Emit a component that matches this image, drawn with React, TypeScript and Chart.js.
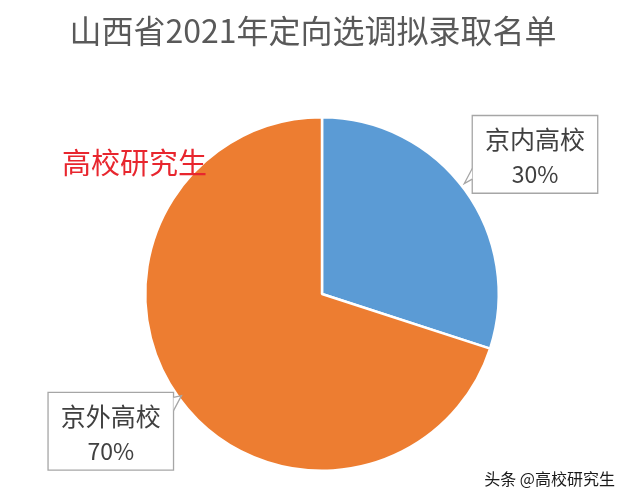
import React, { useEffect, useRef } from "react";
import { Chart, registerables } from "chart.js";

Chart.register(...registerables);

const titleText = "山西省2021年定向选调拟录取名单";
const categories = ["京内高校", "京外高校"];
const values = [30, 70];
const colors = ["#5B9BD5", "#ED7D31"];
const overlayText = "高校研究生";
const watermark = "头条 @高校研究生";

const FONT = '"Noto Sans CJK SC", "Noto Sans", sans-serif';

function drawCallout(ctx: CanvasRenderingContext2D, box: { l: number; t: number; r: number; b: number }, tail: number[][], lines: string[]) {
  ctx.save();
  ctx.fillStyle = "#ffffff";
  ctx.strokeStyle = "#a6a6a6";
  ctx.lineWidth = 1.3;
  ctx.beginPath();
  ctx.rect(box.l, box.t, box.r - box.l, box.b - box.t);
  ctx.fill();
  ctx.stroke();
  ctx.beginPath();
  ctx.moveTo(tail[0][0], tail[0][1]);
  ctx.lineTo(tail[1][0], tail[1][1]);
  ctx.lineTo(tail[2][0], tail[2][1]);
  ctx.closePath();
  ctx.fill();
  ctx.beginPath();
  ctx.moveTo(tail[0][0], tail[0][1]);
  ctx.lineTo(tail[1][0], tail[1][1]);
  ctx.lineTo(tail[2][0], tail[2][1]);
  ctx.stroke();
  ctx.fillStyle = "#404040";
  ctx.textAlign = "center";
  ctx.textBaseline = "middle";
  const cx = (box.l + box.r) / 2;
  const h = box.b - box.t;
  ctx.font = `25px ${FONT}`;
  ctx.fillText(lines[0], cx, box.t + h * 0.31);
  ctx.font = `23px ${FONT}`;
  ctx.fillText(lines[1], cx, box.t + h * 0.75);
  ctx.restore();
}

const decorPlugin = {
  id: "decor",
  afterDraw(chart: any) {
    const ctx: CanvasRenderingContext2D = chart.ctx;
    const meta = chart.getDatasetMeta(0);
    const arc = meta.data[0];
    const cx = arc.x;
    const cy = arc.y;
    const r = arc.outerRadius;

    ctx.save();
    ctx.fillStyle = "#595959";
    ctx.font = `32px ${FONT}`;
    ctx.textAlign = "center";
    ctx.textBaseline = "middle";
    ctx.fillText(titleText, cx - 9, 31);
    ctx.restore();

    const total = values.reduce((a, b) => a + b, 0);
    const pct = values.map((v) => Math.round((v / total) * 100) + "%");

    drawCallout(
      ctx,
      { l: cx + 0.85 * r, t: cy - 1.01 * r, r: cx + 1.56 * r, b: cy - 0.57 * r },
      [
        [cx + 0.85 * r, cy - 0.71 * r],
        [cx + 0.805 * r, cy - 0.625 * r],
        [cx + 0.85 * r, cy - 0.65 * r],
      ],
      [categories[0], pct[0]]
    );
    drawCallout(
      ctx,
      { l: cx - 1.55 * r, t: cy + 0.557 * r, r: cx - 0.84 * r, b: cy + 0.997 * r },
      [
        [cx - 0.84 * r, cy + 0.585 * r],
        [cx - 0.795 * r, cy + 0.575 * r],
        [cx - 0.84 * r, cy + 0.66 * r],
      ],
      [categories[1], pct[1]]
    );

    ctx.save();
    ctx.fillStyle = "#E8262E";
    ctx.font = `29px ${FONT}`;
    ctx.textAlign = "left";
    ctx.textBaseline = "middle";
    ctx.fillText(overlayText, 62, 163);
    ctx.restore();

    ctx.save();
    ctx.font = `16px ${FONT}`;
    ctx.textAlign = "right";
    ctx.textBaseline = "middle";
    ctx.fillStyle = "#ffffff";
    ctx.fillText(watermark, 616, 480);
    ctx.fillStyle = "#1a1a1a";
    ctx.fillText(watermark, 615, 479);
    ctx.restore();
  },
};

export default function App() {
  const ref = useRef<HTMLCanvasElement | null>(null);
  useEffect(() => {
    document.body.style.margin = "0";
    if (!ref.current) return;
    const chart = new Chart(ref.current, {
      type: "pie",
      data: {
        labels: categories,
        datasets: [
          {
            data: values,
            backgroundColor: colors,
            borderColor: "#ffffff",
            borderWidth: 2.5,
          },
        ],
      },
      options: {
        animation: false,
        responsive: false,
        maintainAspectRatio: false,
        layout: { padding: { top: 116, bottom: 28, left: 144, right: 129 } },
        plugins: {
          legend: { display: false },
          title: { display: false },
          tooltip: { enabled: false },
        },
      },
      plugins: [decorPlugin],
    });
    return () => chart.destroy();
  }, []);
  return (
    <div style={{ position: "absolute", left: 0, top: 0, width: 629, height: 500, background: "#fff" }}>
      <canvas ref={ref} width={629} height={500} style={{ width: 629, height: 500 }} />
    </div>
  );
}
